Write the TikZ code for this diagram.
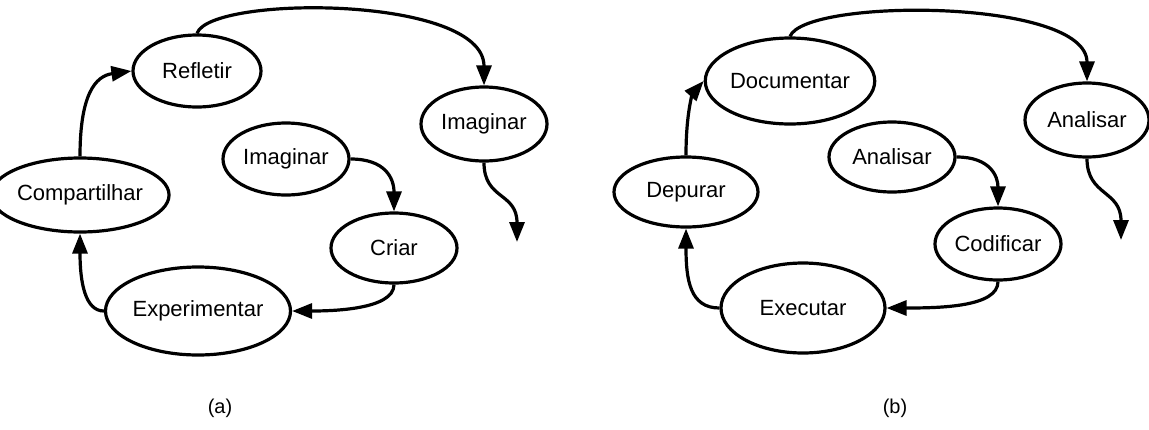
\documentclass[tikz,border=0pt]{standalone}
\usepackage{fontspec}
\setmainfont{Liberation Sans}
\usetikzlibrary{shapes.geometric,arrows.meta}
\begin{document}
\begin{tikzpicture}[x=1pt,y=-1pt,
  stage/.style={ellipse,draw,line width=3.2pt,inner sep=0pt,font=\fontsize{22}{26}\selectfont},
  flow/.style={line width=3.2pt,-{Triangle[length=20pt,width=15pt]}},
  sublabel/.style={font=\fontsize{20}{24}\selectfont}]
\useasboundingbox (0,0) rectangle (1149,429);
% (a)
\node[stage,minimum width=128pt,minimum height=72pt] (ra) at (197,71) {Refletir};
\node[stage,minimum width=126pt,minimum height=74pt] (ia2) at (484,124) {Imaginar};
\node[stage,minimum width=126pt,minimum height=72pt] (ia1) at (286,159) {Imaginar};
\node[stage,minimum width=144pt,minimum height=74pt] (ca) at (80,195) {Compartilhar};
\node[stage,minimum width=126pt,minimum height=70pt] (cr) at (394,248) {Criar};
\node[stage,minimum width=162pt,minimum height=88pt] (ex) at (198,311) {Experimentar};
\coordinate (enda) at (517,242);
\draw[flow] (ra.north) .. controls (210,-5) and (484,-5) .. (ia2.north);
\draw[flow] (ia2.south) .. controls (484,200) and (517,192) .. (enda);
\draw[flow] (ia1.east) .. controls (385,159) and (394,178) .. (cr.north);
\draw[flow] (cr.south) .. controls (394,310) and (330,311) .. (ex.east);
\draw[flow] (ex.west) .. controls (85,311) and (80,282) .. (ca.south);
\draw[flow] (ca.north) .. controls (80,95) and (95,76) .. (ra.west);
\node[sublabel] (la) at (220,408) {(a)};
% (b)
\node[stage,minimum width=152pt,minimum height=86pt] (doc) at (790,81) {Documentar};
\node[stage,minimum width=124pt,minimum height=74pt] (an2) at (1087,120) {Analisar};
\node[stage,minimum width=126pt,minimum height=70pt] (an1) at (892,157) {Analisar};
\node[stage,minimum width=144pt,minimum height=70pt] (dep) at (686,192) {Depurar};
\node[stage,minimum width=126pt,minimum height=72pt] (cod) at (998,244) {Codificar};
\node[stage,minimum width=164pt,minimum height=90pt] (exe) at (803,308) {Executar};
\coordinate (endb) at (1121,240);
\draw[flow] (doc.north) .. controls (805,-2) and (1087,-2) .. (an2.north);
\draw[flow] (an2.south) .. controls (1087,196) and (1121,190) .. (endb);
\draw[flow] (an1.east) .. controls (990,157) and (998,176) .. (cod.north);
\draw[flow] (cod.south) .. controls (998,307) and (940,308) .. (exe.east);
\draw[flow] (exe.west) .. controls (690,308) and (686,280) .. (dep.south);
\draw[flow] (dep.north) .. controls (686,108) and (694,92) .. (doc.west);
\node[sublabel] (lb) at (895,408) {(b)};
\end{tikzpicture}
\end{document}
